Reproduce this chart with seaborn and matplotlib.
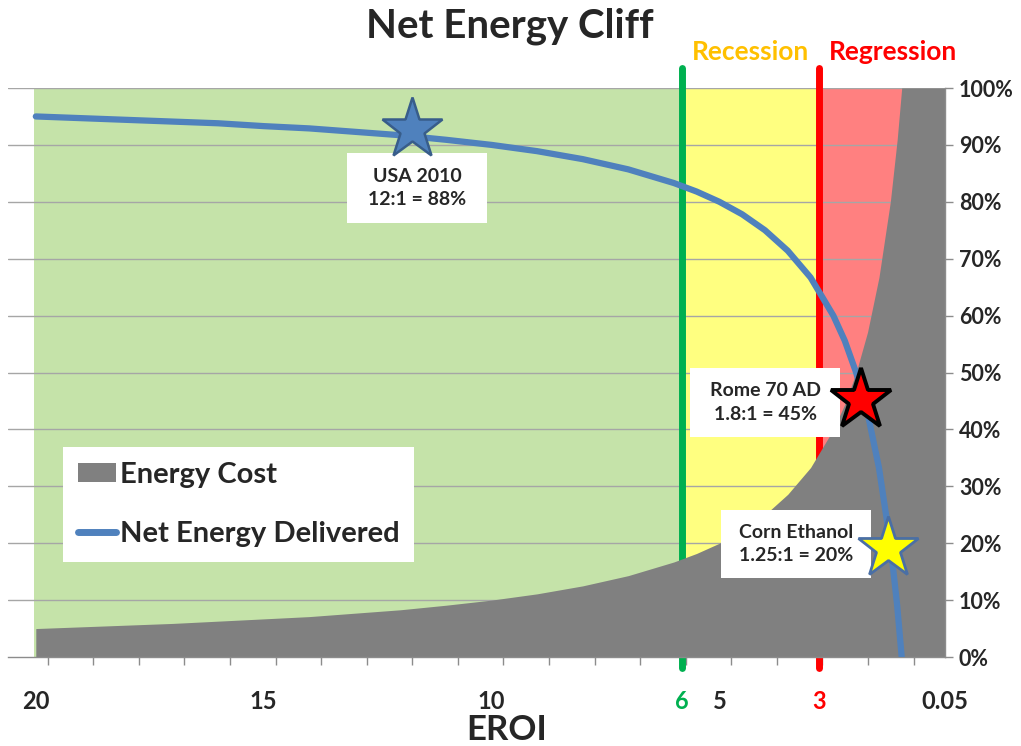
import numpy as np
import pandas as pd
import matplotlib
matplotlib.use("Agg")
import matplotlib.pyplot as plt
from matplotlib.patches import Patch, Rectangle
from matplotlib.lines import Line2D
import seaborn as sns

# EROI values along the x axis and the share of energy at each point
eroi = [20, 19, 18, 17, 16, 15, 14, 13, 12, 11, 10, 9, 8, 7, 6, 5.5, 5, 4.5,
        4, 3.5, 3, 2.5, 2.25, 2, 1.75, 1.5, 1.25, 1.1, 1, 0.05]
energy_cost = [0.050, 0.053, 0.056, 0.059, 0.063, 0.067, 0.071, 0.077, 0.083,
               0.091, 0.100, 0.111, 0.125, 0.143, 0.167, 0.182, 0.200, 0.222,
               0.250, 0.286, 0.333, 0.400, 0.444, 0.500, 0.571, 0.667, 0.800,
               0.909, 1.000, 1.000]
net_energy = [0.950, 0.947, 0.944, 0.941, 0.938, 0.933, 0.929, 0.923, 0.917,
              0.909, 0.900, 0.889, 0.875, 0.857, 0.833, 0.818, 0.800, 0.778,
              0.750, 0.714, 0.667, 0.600, 0.556, 0.500, 0.429, 0.333, 0.200,
              0.091, 0.000, np.nan]

# zones: green (healthy), yellow (recession), red (regression)
zone_edges = [20.05, 5.82, 2.81, 0.05]
zone_names = ["", "Recession", "Regression"]

# x tick labels
tick_pos = [20, 15, 10, 5.82, 5, 2.81, 0.05]
tick_labels = ["20", "15", "10", "6", "5", "3", "0.05"]

# star callouts
callout_text = ["USA 2010\n12:1 = 88%", "Rome 70 AD\n1.8:1 = 45%",
                "Corn Ethanol\n1.25:1 = 20%"]
star_eroi = [11.75, 1.89, 1.30]
star_share = [0.928, 0.452, 0.192]

df = pd.DataFrame({"eroi": eroi, "cost": energy_cost, "net": net_energy})

sns.set_style("white")
plt.rcParams["font.family"] = ["Lato", "DejaVu Sans"]
plt.rcParams["font.weight"] = "bold"

W, H = 1021, 746
fig = plt.figure(figsize=(W / 100, H / 100), dpi=100)
ax = fig.add_axes([8 / W, 1 - 657 / H, (945 - 8) / W, (657 - 88) / H])

x_left = 20.61
ax.set_xlim(x_left, 0.05)
ax.set_ylim(0, 1)

# background zones
zone_colors = ["#C5E3A9", "#FFFF80", "#FF8080"]
for i, c in enumerate(zone_colors):
    ax.axvspan(zone_edges[i], zone_edges[i + 1], ymin=0, ymax=1, color=c, lw=0, zorder=0.5)

# horizontal grid
for yv in np.arange(0.1, 1.01, 0.1):
    ax.axhline(yv, color="#A6A6A6", lw=1, zorder=1)

# threshold lines (stick out above and below the plot)
line_cols = ["#00B050", "#FF0000"]
for xv, c in zip(zone_edges[1:3], line_cols):
    ax.axvline(xv, ymin=-0.019, ymax=1.035, color=c, lw=5, zorder=1.5, clip_on=False)

# energy cost area
ax.fill_between(df["eroi"], 0, df["cost"], color="#808080", lw=0, zorder=2)

# net energy line
sns.lineplot(data=df.dropna(), x="eroi", y="net", ax=ax, color="#4F81BD",
             lw=4.5, zorder=3, legend=False)

# callout boxes
def px_to_eroi(px):
    return 20 - (px - 36) / 45.56

def py_to_share(py):
    return (657 - py) / 569

boxes_px = [(347, 487, 153, 223), (690, 840, 368, 437), (721, 871, 510, 578)]
for (x0, x1, y0, y1), txt in zip(boxes_px, callout_text):
    ex0, ex1 = px_to_eroi(x0), px_to_eroi(x1)
    sy0, sy1 = py_to_share(y1), py_to_share(y0)
    ax.add_patch(Rectangle((ex1, sy0), ex0 - ex1, sy1 - sy0, fc="white", ec="none", zorder=4))
    ax.text((ex0 + ex1) / 2, (sy0 + sy1) / 2, txt, ha="center", va="center",
            fontsize=14, fontweight="bold", linespacing=1.45, zorder=4.5)

star_face = ["#4F81BD", "#FF0000", "#FFFF00"]
star_edge = ["#385D8A", "#000000", "#4A6FA5"]
star_ew = [1.8, 2.8, 2.0]
for x, y, fc, ec, ew in zip(star_eroi, star_share, star_face, star_edge, star_ew):
    ax.plot(x, y, marker="*", ms=46, mfc=fc, mec=ec, mew=ew, zorder=5, clip_on=False)

# axes styling
for s in ["left", "top"]:
    ax.spines[s].set_visible(False)
for s in ["bottom", "right"]:
    ax.spines[s].set_color("#8C8C8C")
    ax.spines[s].set_linewidth(1)

ax.yaxis.tick_right()
ax.set_yticks(np.arange(0, 1.01, 0.1))
ax.set_yticklabels([f"{int(round(v * 100))}%" for v in np.arange(0, 1.01, 0.1)],
                   fontsize=15.5, fontweight="bold")
ax.tick_params(axis="y", which="major", direction="out", length=6, width=1,
               color="#8C8C8C", pad=4, right=True, left=False)

ax.set_xticks(tick_pos)
ax.set_xticklabels(tick_labels, fontsize=17, fontweight="bold")
ax.tick_params(axis="x", which="major", length=0, pad=24)
for lab in ax.get_xticklabels():
    if lab.get_text() == "6":
        lab.set_color("#00B050")
    elif lab.get_text() == "3":
        lab.set_color("#FF0000")
ax.set_xticks(np.arange(19.74, 0.05, -1.0), minor=True)
ax.tick_params(axis="x", which="minor", direction="out", length=6, width=1,
               color="#8C8C8C", bottom=True)
ax.set_xlabel("")
ax.set_ylabel("")

# titles and zone labels
fig.text(510 / W, 1 - 26 / H, "Net Energy Cliff", ha="center", va="center",
         fontsize=29, fontweight="bold")
fig.text(750 / W, 1 - 52 / H, zone_names[1], ha="center", va="center",
         fontsize=19, fontweight="bold", color="#FFC000")
fig.text(893 / W, 1 - 52 / H, zone_names[2], ha="center", va="center",
         fontsize=19, fontweight="bold", color="#FF0000")
fig.text(507 / W, 1 - 730 / H, "EROI", ha="center", va="center",
         fontsize=25, fontweight="bold")

# legend
handles = [Patch(facecolor="#808080", edgecolor="none"),
           Line2D([], [], color="#4F81BD", lw=5, solid_capstyle="round")]
leg = fig.legend(handles, ["Energy Cost", "Net Energy Delivered"],
                 loc="upper left", bbox_to_anchor=(63 / W, 1 - 447 / H),
                 frameon=True, facecolor="white", edgecolor="none", framealpha=1,
                 fancybox=False, prop={"size": 21, "weight": "bold"},
                 handlelength=1.3, handleheight=0.6, handletextpad=0.15,
                 borderpad=0.5, labelspacing=1.15, borderaxespad=0)
leg.set_zorder(6)

fig.savefig("out.png", dpi=100)
